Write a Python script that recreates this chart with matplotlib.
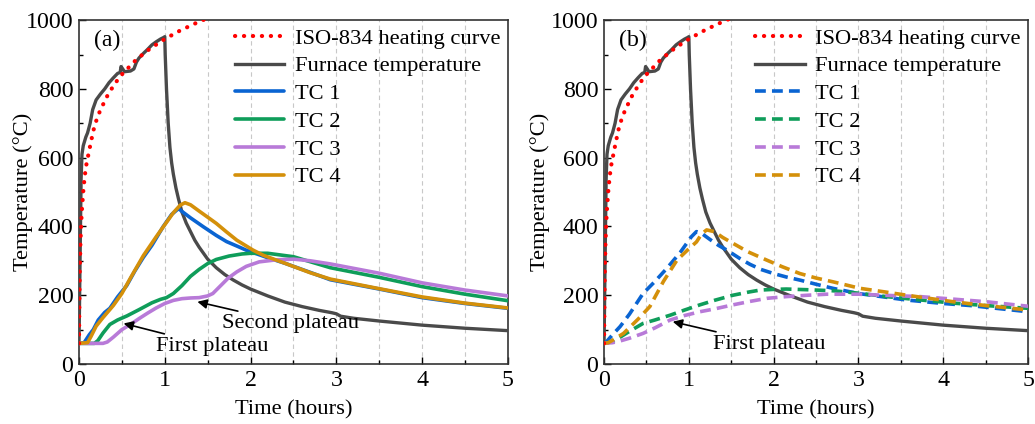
import matplotlib
matplotlib.use("Agg")
import matplotlib.pyplot as plt
from matplotlib.ticker import MultipleLocator

plt.rcParams['font.family'] = ['Liberation Serif', 'DejaVu Serif']

# ISO-834 standard heating curve (values read at standard times, hours)
iso_t = [0.0, 0.0083, 0.0167, 0.025, 0.033, 0.05, 0.0667, 0.0833, 0.125, 0.1667, 0.2083, 0.25,
         0.333, 0.4167, 0.5, 0.667, 0.833, 1.0, 1.1667, 1.333, 1.5]
iso_T = [60, 261, 349, 404, 444, 502, 545, 576, 628, 678, 713, 739,
         781, 815, 842, 885, 918, 945, 968, 988, 1006]

# Furnace temperature
fur_t = [0.0, 0.005, 0.015, 0.025, 0.035, 0.05, 0.08, 0.1, 0.13, 0.16, 0.2, 0.25, 0.3, 0.35, 0.4,
         0.45, 0.48, 0.49, 0.51, 0.53, 0.6, 0.64, 0.67, 0.7, 0.75, 0.8, 0.85, 0.9, 0.95, 0.99, 1.0,
         1.005, 1.02, 1.04, 1.06, 1.08, 1.1, 1.13, 1.16, 1.2, 1.25, 1.3, 1.35, 1.4, 1.5, 1.6, 1.7,
         1.8, 1.9, 2.0, 2.2, 2.4, 2.6, 2.8, 2.95, 3.0, 3.05, 3.2, 3.5, 4.0, 4.5, 5.0]
fur_T = [60, 150, 350, 540, 610, 635, 660, 672, 700, 740, 768, 785, 800, 818, 832,
         845, 848, 865, 858, 850, 852, 858, 878, 890, 903, 915, 928, 937, 945, 950, 952,
         900, 800, 700, 630, 585, 552, 512, 480, 442, 410, 385, 360, 340, 305, 280, 260,
         244, 230, 218, 198, 180, 167, 156, 149, 146, 139, 133, 125, 113, 104, 97]

# Panel (a) thermocouples
a1_t = [0.0, 0.06, 0.12, 0.167, 0.225, 0.3, 0.36, 0.45, 0.556, 0.65, 0.75, 0.85, 0.98, 1.08, 1.16,
        1.22, 1.3, 1.45, 1.6, 1.72, 1.85, 1.95, 2.19, 2.4, 2.7, 2.93, 3.5, 4.0, 4.5, 5.0]
a1_T = [60, 62, 85, 100, 128, 150, 162, 195, 228, 270, 310, 345, 399, 435, 452,
        440, 425, 399, 374, 356, 342, 331, 310, 293, 266, 245, 218, 193, 176, 162]
a2_t = [0.0, 0.18, 0.22, 0.28, 0.36, 0.45, 0.56, 0.7, 0.85, 0.95, 1.02, 1.1, 1.2, 1.3, 1.4, 1.5,
        1.6, 1.75, 1.9, 2.0, 2.2, 2.5, 2.93, 3.5, 4.0, 4.5, 5.0]
a2_T = [60, 60, 68, 90, 115, 128, 140, 158, 178, 188, 193, 205, 228, 255, 275, 292,
        304, 314, 320, 322, 322, 312, 280, 252, 225, 203, 184]
a3_t = [0.0, 0.28, 0.33, 0.4, 0.5, 0.6, 0.7, 0.8, 0.9, 1.0, 1.1, 1.2, 1.3, 1.4, 1.5, 1.56, 1.64,
        1.74, 1.84, 1.95, 2.1, 2.3, 2.5, 2.7, 2.93, 3.5, 4.0, 4.5, 5.0]
a3_T = [60, 60, 64, 78, 100, 115, 132, 148, 163, 176, 185, 190, 192, 193, 198, 205, 225,
        250, 268, 284, 297, 303, 305, 300, 291, 264, 236, 215, 198]
a4_t = [0.0, 0.1, 0.14, 0.2, 0.28, 0.4, 0.5, 0.6, 0.75, 0.9, 1.0, 1.1, 1.18, 1.235, 1.3, 1.41,
        1.5, 1.6, 1.72, 1.84, 2.03, 2.15, 2.4, 2.7, 2.93, 3.5, 4.0, 4.5, 5.0]
a4_T = [60, 62, 80, 110, 135, 170, 205, 250, 315, 370, 405, 440, 462, 469, 463, 443,
        427, 409, 384, 360, 331, 316, 293, 265, 247, 219, 195, 177, 163]

# Panel (b) thermocouples
b1_t = [0.0, 0.03, 0.1, 0.19, 0.3, 0.46, 0.6, 0.74, 0.9, 1.03, 1.09, 1.15, 1.25, 1.35, 1.45, 1.6,
        1.72, 1.85, 2.0, 2.15, 2.31, 2.5, 2.7, 3.0, 3.3, 3.57, 4.0, 4.32, 4.7, 5.0]
b1_T = [60, 65, 85, 109, 145, 205, 240, 278, 325, 370, 385, 380, 362, 345, 331, 307,
        290, 275, 263, 253, 244, 232, 220, 205, 195, 186, 176, 170, 160, 152]
b2_t = [0.0, 0.1, 0.19, 0.3, 0.46, 0.6, 0.78, 0.95, 1.13, 1.3, 1.52, 1.7, 1.84, 2.0, 2.15, 2.4,
        2.7, 3.0, 3.33, 3.7, 4.12, 4.5, 5.0]
b2_T = [60, 65, 78, 95, 118, 128, 142, 157, 172, 185, 200, 209, 215, 217, 218, 216,
        213, 206, 196, 187, 177, 170, 162]
b3_t = [0.0, 0.1, 0.19, 0.3, 0.46, 0.6, 0.78, 0.95, 1.13, 1.3, 1.52, 1.72, 1.92, 2.15, 2.4, 2.63,
        3.0, 3.4, 3.73, 4.1, 4.51, 5.0]
b3_T = [60, 62, 67, 75, 89, 105, 128, 141, 152, 160, 172, 182, 191, 196, 200, 203,
        203, 199, 196, 189, 181, 168]
b4_t = [0.0, 0.05, 0.12, 0.23, 0.4, 0.54, 0.7, 0.86, 1.0, 1.09, 1.15, 1.21, 1.3, 1.4, 1.52, 1.7,
        1.92, 2.1, 2.31, 2.5, 2.7, 3.02, 3.3, 3.57, 4.12, 4.5, 5.0]
b4_T = [60, 62, 72, 89, 130, 167, 240, 302, 335, 355, 378, 390, 385, 368, 351, 326,
        302, 283, 263, 250, 239, 220, 210, 200, 181, 170, 157]

labels = ['TC 1', 'TC 2', 'TC 3', 'TC 4']
colors = ['#0a64d2', '#0f9d5a', '#b87ad8', '#d4900a']

FS = 16.2
TFS = 17.2
fig = plt.figure(figsize=(10.35, 4.24), dpi=100)
axA = fig.add_axes([0.0763, 0.1415, 0.4145, 0.811])
axB = fig.add_axes([0.5836, 0.1415, 0.4097, 0.811])


def style(ax, tag, ylab_x):
    ax.set_xlim(0, 5)
    ax.set_ylim(0, 1000)
    ax.xaxis.set_major_locator(MultipleLocator(1))
    ax.xaxis.set_minor_locator(MultipleLocator(0.5))
    ax.yaxis.set_major_locator(MultipleLocator(200))
    ax.yaxis.set_minor_locator(MultipleLocator(100))
    ax.tick_params(which='both', direction='in', labelsize=TFS, pad=4)
    ax.tick_params(which='major', length=5, width=1)
    ax.tick_params(which='minor', length=3, width=1)
    for x in [0.5, 1, 1.5, 2, 2.5, 3, 3.5, 4, 4.5]:
        ax.axvline(x, color='#c8c8c8', lw=0.8, ls=(0, (4, 3)), zorder=0)
    for s in ax.spines.values():
        s.set_linewidth(1.2)
        s.set_color('#333333')
    ax.set_xlabel('Time (hours)', fontsize=FS, labelpad=7)
    ax.set_ylabel('Temperature (°C)', fontsize=FS)
    ax.yaxis.set_label_coords(ylab_x, 0.5)
    ax.text(0.035, 0.94, tag, transform=ax.transAxes, fontsize=FS + 1, va='center', ha='left')


def base(ax):
    ax.plot(iso_t, iso_T, color='#ff0000', lw=3, ls=(0, (0.05, 2.1)), dash_capstyle='round',
            label='ISO-834 heating curve', zorder=4)
    ax.plot(fur_t, fur_T, color='#4a4a4a', lw=2.4, label='Furnace temperature', zorder=3)


arrow = dict(arrowstyle='-|>', color='black', lw=1.2, mutation_scale=14, shrinkA=0, shrinkB=0)

# Panel (a)
base(axA)
for t, T, lab, c in zip([a1_t, a2_t, a3_t, a4_t], [a1_T, a2_T, a3_T, a4_T], labels, colors):
    axA.plot(t, T, color=c, lw=2.6, label=lab, solid_capstyle='round', zorder=3)
style(axA, '(a)', -0.106)
axA.annotate('Second plateau', xy=(1.38, 181), xytext=(1.67, 118), fontsize=FS,
             va='center', ha='left', arrowprops=arrow)
axA.annotate('First plateau', xy=(0.52, 118), xytext=(0.9, 52), fontsize=FS,
             va='center', ha='left', arrowprops=arrow)

# Panel (b)
base(axB)
for t, T, lab, c in zip([b1_t, b2_t, b3_t, b4_t], [b1_T, b2_T, b3_T, b4_T], labels, colors):
    axB.plot(t, T, color=c, lw=2.6, ls=(0, (3, 1.7)), label=lab, zorder=3)
style(axB, '(b)', -0.128)
axB.annotate('First plateau', xy=(0.81, 123), xytext=(1.28, 58), fontsize=FS,
             va='center', ha='left', arrowprops=arrow)

for ax in (axA, axB):
    ax.legend(loc='upper right', frameon=False, fontsize=FS, handlelength=2.2,
              handletextpad=0.45, labelspacing=0.31, borderaxespad=0.15, borderpad=0.2)

fig.savefig('out.png', dpi=100)
